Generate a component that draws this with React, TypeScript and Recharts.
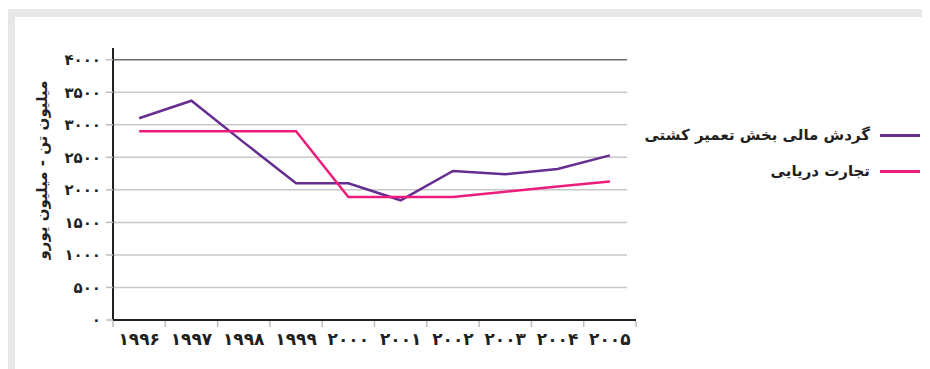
import { LineChart, Line, XAxis, YAxis, ReferenceLine, Legend } from "recharts";

// years on the category axis
const YEARS = [1996, 1997, 1998, 1999, 2000, 2001, 2002, 2003, 2004, 2005];

// گردش مالی بخش تعمیر کشتی (million euro)
const SHIP_REPAIR = [3100, 3370, 2730, 2100, 2100, 1840, 2290, 2240, 2320, 2530];
// تجارت دریایی (million tonnes)
const SEA_TRADE = [2900, 2900, 2900, 2900, 1890, 1890, 1890, 1970, 2050, 2130];

const Y_TICKS = [0, 500, 1000, 1500, 2000, 2500, 3000, 3500, 4000];

const SERIES_NAMES = ["گردش مالی بخش تعمیر کشتی", "تجارت دریایی"];
const Y_TITLE = "میلیون تن - میلیون یورو";

const PURPLE = "#662d91";
const PINK = "#ec1c7c";
const INK = "#231f20";
const FONT = "'DejaVu Sans', sans-serif";

const CHART_W = 915;
const CHART_H = 352;
const MARGIN = { top: 31, right: 294, bottom: 9, left: 0 };
const Y_AXIS_W = 98;
const BAND = (CHART_W - MARGIN.left - MARGIN.right - Y_AXIS_W) / YEARS.length;

const FA_DIGITS = "۰۱۲۳۴۵۶۷۸۹";
const toFa = (n: number | string) =>
  String(n).replace(/[0-9]/g, (d) => FA_DIGITS[Number(d)]);

const data = YEARS.map((year, i) => ({
  x: i + 0.5,
  year,
  repair: SHIP_REPAIR[i],
  trade: SEA_TRADE[i],
}));

// tick marks sit on the band edges, year labels in the middle of each band
function YearTick(props: any) {
  const { x, y, payload } = props;
  const idx = payload.value as number;
  return (
    <g>
      <line x1={x} y1={y + 1} x2={x} y2={y + 7} stroke="#bcbec0" strokeWidth={1.5} />
      {idx < YEARS.length && (
        <text
          x={x + BAND / 2}
          y={y + 25}
          textAnchor="middle"
          fontSize={17}
          fontWeight={700}
          fill={INK}
          fontFamily={FONT}
        >
          {toFa(YEARS[idx])}
        </text>
      )}
    </g>
  );
}

function YTitle() {
  return (
    <text
      x={27}
      y={153}
      transform="rotate(-90 27 153)"
      textAnchor="middle"
      dominantBaseline="central"
      fontSize={15}
      fontWeight={700}
      fill={INK}
      fontFamily={FONT}
    >
      {Y_TITLE}
    </text>
  );
}

function LegendBox(props: any) {
  const items = [...(props.payload || [])].sort(
    (a: any, b: any) => SERIES_NAMES.indexOf(a.value) - SERIES_NAMES.indexOf(b.value)
  );
  return (
    <div style={{ fontFamily: FONT, display: "flex", flexDirection: "column", gap: 12 }}>
      {items.map((it: any) => (
        <div
          key={it.value}
          style={{ display: "flex", alignItems: "center", justifyContent: "flex-end", gap: 10 }}
        >
          <span style={{ fontSize: 15, fontWeight: 600, color: INK, direction: "rtl", lineHeight: "24px" }}>
            {it.value}
          </span>
          <span style={{ display: "inline-block", width: 40, height: 3, background: it.color }} />
        </div>
      ))}
    </div>
  );
}

export default function App() {
  return (
    <div
      style={{
        margin: "1px 0 0 -1px",
        borderTop: "8px solid #e6e7e8",
        borderLeft: "8px solid #e6e7e8",
        width: CHART_W,
        height: CHART_H,
        background: "#fff",
      }}
    >
      <LineChart width={CHART_W} height={CHART_H} data={data} margin={MARGIN}>
        <XAxis
          dataKey="x"
          type="number"
          domain={[0, YEARS.length]}
          ticks={YEARS.map((_, i) => i).concat(YEARS.length)}
          interval={0}
          height={40}
          tickLine={false}
          tickSize={0}
          tickMargin={0}
          axisLine={{ stroke: INK, strokeWidth: 2 }}
          tick={<YearTick />}
        />
        <YAxis
          type="number"
          domain={[0, 4180]}
          ticks={Y_TICKS}
          interval={0}
          width={Y_AXIS_W}
          tickSize={7}
          tickMargin={5}
          tickLine={{ stroke: "#bcbec0", strokeWidth: 1.5 }}
          axisLine={{ stroke: INK, strokeWidth: 2 }}
          tickFormatter={toFa}
          tick={{ fontSize: 15, fontWeight: 700, fill: INK, fontFamily: FONT }}
          label={<YTitle />}
        />
        {Y_TICKS.filter((v) => v > 0).map((v) => (
          <ReferenceLine
            key={v}
            segment={[
              { x: 0, y: v },
              { x: YEARS.length - 0.17, y: v },
            ]}
            stroke={v === Y_TICKS[Y_TICKS.length - 1] ? "#6d6e71" : "#c7c8ca"}
            strokeWidth={1.5}
          />
        ))}
        <Legend
          layout="horizontal"
          verticalAlign="middle"
          align="center"
          content={<LegendBox />}
          wrapperStyle={{ position: "absolute", top: 106, right: 10, left: "auto", width: 300 }}
        />
        <Line
          type="linear"
          dataKey="repair"
          name={SERIES_NAMES[0]}
          stroke={PURPLE}
          strokeWidth={2.5}
          dot={false}
          isAnimationActive={false}
        />
        <Line
          type="linear"
          dataKey="trade"
          name={SERIES_NAMES[1]}
          stroke={PINK}
          strokeWidth={2.5}
          dot={false}
          isAnimationActive={false}
        />
      </LineChart>
    </div>
  );
}
